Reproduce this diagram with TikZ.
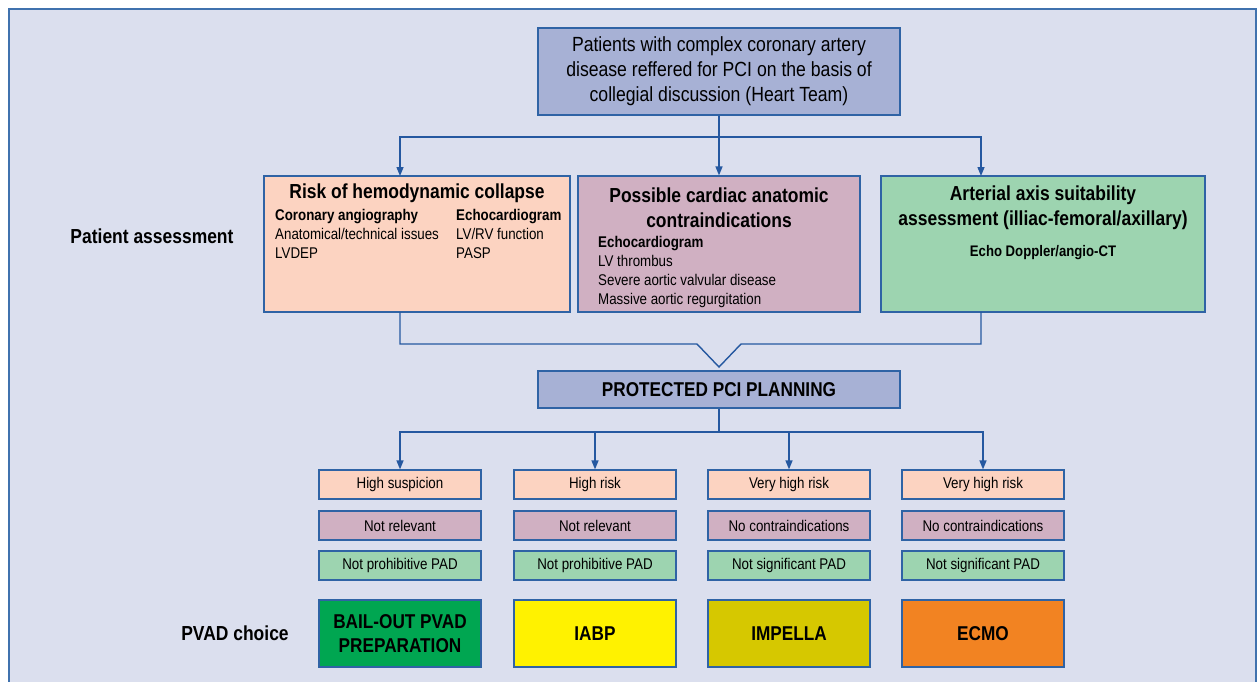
\documentclass[tikz,border=0pt]{standalone}
\usepackage{fontspec}
\setmainfont{Liberation Sans}[FakeStretch=0.86]
\usetikzlibrary{arrows.meta}
\definecolor{bgc}{HTML}{DBDFEE}
\definecolor{framec}{HTML}{4072AE}
\definecolor{edgec}{HTML}{2F63A5}
\definecolor{linec}{HTML}{2558A0}
\definecolor{topc}{HTML}{A7B1D5}
\definecolor{peach}{HTML}{FCD3C1}
\definecolor{mauve}{HTML}{D0B0C2}
\definecolor{mint}{HTML}{9DD4B0}
\definecolor{bailc}{HTML}{00A651}
\definecolor{iabpc}{HTML}{FFF200}
\definecolor{impc}{HTML}{D6C800}
\definecolor{ecmoc}{HTML}{F28322}
\tikzset{
  box/.style={draw=edgec, line width=1.2pt, rectangle, inner sep=0pt, align=center},
  small/.style={box, minimum width=162pt, minimum height=29pt, font=\fontsize{15.5}{18}\selectfont},
  pvad/.style={box, minimum width=162pt, minimum height=67pt, font=\fontsize{20}{24}\selectfont\bfseries},
  conn/.style={draw=linec, line width=1.4pt},
  arr/.style={conn, -{Triangle[width=7pt,length=9pt]}},
  ttl/.style={font=\fontsize{20.3}{25}\selectfont\bfseries, align=center, inner sep=0pt},
  bodytxt/.style={font=\fontsize{15.5}{18.7}\selectfont, align=left, inner sep=0pt, anchor=north west},
  side/.style={font=\fontsize{20.3}{24}\selectfont\bfseries, inner sep=0pt},
}
\begin{document}
\begin{tikzpicture}[x=1pt,y=-1pt]
\useasboundingbox (0,0) rectangle (1258,681);
\fill[white] (0,0) rectangle (1258,681);
\begin{scope}
\clip (0,0) rectangle (1258,681);
\draw[fill=bgc, draw=framec, line width=1.5pt] (9,9) rectangle (1256,700);
\end{scope}

% top box
\node[box, fill=topc, minimum width=362pt, minimum height=87pt, font=\fontsize{20.5}{25}\selectfont] (top) at (719,71.5)
  {Patients with complex coronary artery\\disease reffered for PCI on the basis of\\collegial discussion (Heart Team)};

% assessment boxes
\node[box, fill=peach, minimum width=306pt, minimum height=136pt] (b1) at (417,244) {};
\node[box, fill=mauve, minimum width=282pt, minimum height=136pt] (b2) at (719,244) {};
\node[box, fill=mint, minimum width=324pt, minimum height=136pt] (b3) at (1043,244) {};

\node[ttl] (t1) at (417,193) {Risk of hemodynamic collapse};
\node[bodytxt] (c1) at (275,209.5) {\textbf{Coronary angiography}\\Anatomical/technical issues\\LVDEP};
\node[bodytxt] (c2) at (456,209.5) {\textbf{Echocardiogram}\\LV/RV function\\PASP};

\node[ttl] (t2) at (719,208) {Possible cardiac anatomic\\contraindications};
\node[bodytxt, font=\fontsize{15.5}{19}\selectfont] (c3) at (598,236) {\textbf{Echocardiogram}\\LV thrombus\\Severe aortic valvular disease\\Massive aortic regurgitation};

\node[ttl] (t3) at (1043,208) {Arterial axis suitability\\assessment (illiac-femoral/axillary)};
\node[font=\fontsize{15.3}{18}\selectfont\bfseries, inner sep=0pt] (c4) at (1043,253) {Echo Doppler/angio-CT};

\node[side] (pa) at (152,236) {Patient assessment};

% top connectors
\coordinate (j1) at (719,137);
\coordinate (a1) at (400,176);
\coordinate (a3) at (981,176);
\draw[conn] (top.south) -- (j1);
\draw[arr] (j1) -| (a1);
\draw[arr] (j1) -| (a3);
\draw[arr] (top.south) -- (b2.north);

% merge connector
\node[box, fill=topc, minimum width=362pt, minimum height=37pt, font=\fontsize{20}{24}\selectfont\bfseries] (pp) at (719,389.5) {PROTECTED PCI PLANNING};
\coordinate (m1) at (400,312);
\coordinate (m3) at (981,312);
\coordinate (v1) at (697,344);
\coordinate (v2) at (741,344);
\coordinate (vt) at (719,367);
\draw[conn, line join=miter] (m1) -- (400,344) -- (v1) -- (vt) -- (v2) -- (981,344) -- (m3);

% lower columns
\foreach \i/\x/\ra/\rb/\rc/\pc/\pt in {
 1/400/High suspicion/Not relevant/Not prohibitive PAD/bailc/{BAIL-OUT PVAD\\PREPARATION},
 2/595/High risk/Not relevant/Not prohibitive PAD/iabpc/IABP,
 3/789/Very high risk/No contraindications/Not significant PAD/impc/IMPELLA,
 4/983/Very high risk/No contraindications/Not significant PAD/ecmoc/ECMO}{
  \node[small, fill=peach] (r1\i) at (\x,484.5) {\ra};
  \node[small, fill=mauve] (r2\i) at (\x,525.5) {\rb};
  \node[small, fill=mint] (r3\i) at (\x,565.5) {\rc};
  \node[pvad, fill=\pc] (pv\i) at (\x,633.5) {\pt};
}
\coordinate (j2) at (719,432);
\draw[conn] (pp.south) -- (j2);
\foreach \i in {1,2,3,4}{
  \draw[arr] (j2) -| (r1\i.north);
}
\node[side] (pc) at (235,633) {PVAD choice};
\end{tikzpicture}
\end{document}
